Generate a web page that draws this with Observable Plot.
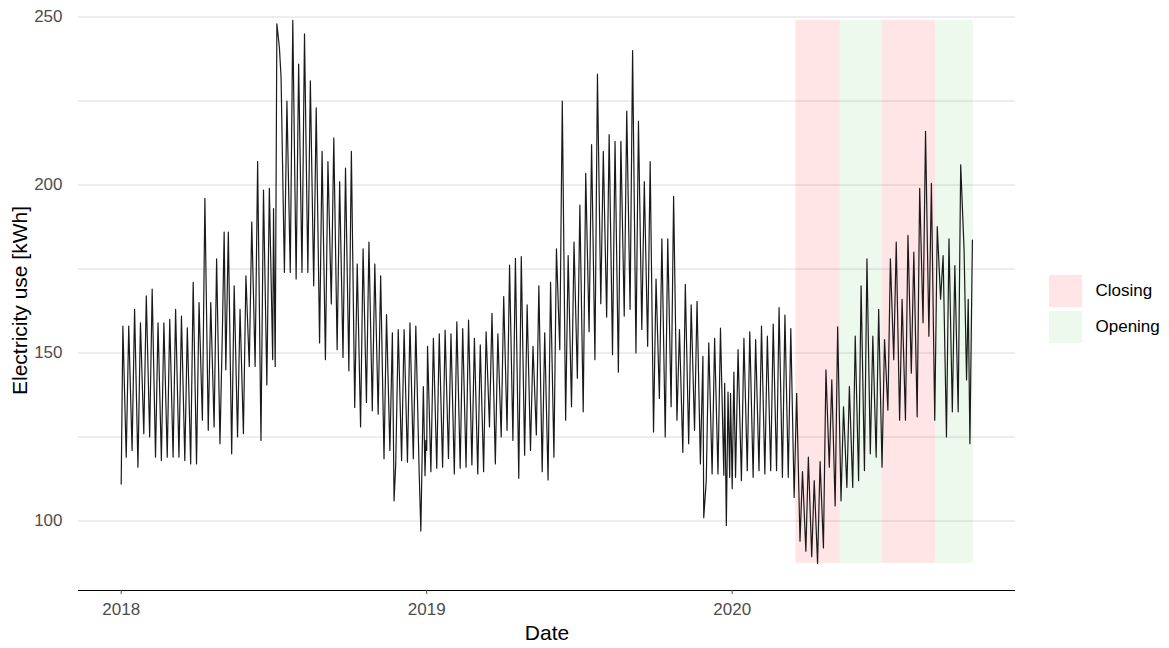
<!DOCTYPE html>
<html>
<head>
<meta charset="utf-8">
<script src="https://cdn.jsdelivr.net/npm/d3@7"></script>
<script src="https://cdn.jsdelivr.net/npm/@observablehq/plot@0.6"></script>
<style>
  body { margin: 0; background: #fff; font-family: "Liberation Sans", Arial, Helvetica, sans-serif; }
  #wrap { position: relative; width: 1169px; height: 648px; }
  #legend { position: absolute; left: 1049px; top: 275px; }
  .row { display: flex; align-items: center; height: 32px; margin-bottom: 3.5px; }
  .sw { width: 33px; height: 32px; }
  .lab { margin-left: 13.5px; font-size: 17px; color: #000; }
</style>
</head>
<body>
<div id="wrap"><div id="chart"></div><div id="legend"></div></div>
<script>
// ---------- data ----------
// weekly weekday peak (placed on Wednesday) and weekend trough (placed on Sunday),
// week 0 = week starting Monday 2018-01-01
const weekdayPeaks = [
  158,158,163,159,167,169,159,159,160,163,
  161,157.5,171,165,196,165,178,158,186,170,
  163,173,189,207,198.5,199,null,232,225,249,
  236,245,231,223,210,207,214,201,205,210,
  176.5,181,183,176.5,173,161.4,156,157,157,159,
  158,null,152,154.4,155.7,156.8,155.7,159.3,157.3,159.8,
  154.4,152.4,156.3,161.8,155.7,166.8,176.2,178.2,178.7,164.3,
  152,170,156,171,181,225,179,183,194,203.5,
  212,233,210,215,213,213,222,240,219,201,
  207,172,184,184,196.6,157,170.4,164.3,165.4,149,
  153,154.4,157.4,98.7,109.6,151,154.4,156.3,154,158,
  155,158.6,163.5,161.3,157.3,138,114.7,119,112,117.7,
  145,142,157.8,134,140,155,170,178,155,163,
  154,178,183,166,185,180,199,216,200.5,187.6,
  179,184,176,206,142,183.6
];
const weekendTroughs = [
  119,121,116,126,125,119,118,119,119,119,
  118,117,117,130,127,128,123,145,120,125,
  126,146,146,124,140.5,148,null,174,174,172,
  174,174,170,153,148,164.6,151,148.7,144.7,133.8,
  128,135.3,132.8,131.8,118.5,121,117,118,117.5,118.5,
  114.5,113.5,114.7,115.7,116,118.6,114,115.7,116,116.7,
  114,114.7,128,117,125,127,124,112.7,119.6,121,
  125.6,114.7,112.2,119,151,130,134,142.5,132.5,156.3,
  148,164.7,160.7,149.5,144.3,161,163,150,157,152,
  126.5,136.5,125,134,130,120.4,123,127,117,112,
  114,114,113.6,113,113,112,115,113,115,114,
  115,115,113,113,107,94,91,89.4,87.4,92,
  116,104.5,106,110,110,112,115,120,119,116,
  133,148,130,130,144,131,159,155,130,166,
  125,132.5,132.5,181,123,null
];
// holidays and irregular days (days since 2018-01-01)
const specialDays   = [0, 123, 182, 184, 186, 189, 326, 358, 361, 364, 365, 696, 721, 725, 728, 732, 1012];
const specialValues = [111, 186, 193, 146, 248, 241, 106, 97, 140, 124, 121, 101, 141, 138.4, 138, 144.3, 166];

// school closing / opening periods
const periodLabels = ["Closing", "Opening", "Closing", "Opening"];
const periodStarts = ["2020-03-17", "2020-05-09", "2020-06-28", "2020-08-31"];
const periodEnds   = ["2020-05-09", "2020-06-28", "2020-08-31", "2020-10-15"];

const yTicks = [100, 150, 200, 250];
const yGrid = [100, 125, 150, 175, 200, 225, 250];
const xTickYears = ["2018-01-01", "2019-01-01", "2020-01-01"];

const legendColors = ["rgba(255,0,0,0.1)", "rgba(40,180,40,0.08)"];

// ---------- build table ----------
const day0 = Date.UTC(2018, 0, 1);
const toDate = d => new Date(day0 + d * 864e5);
const byDay = new Map();
weekdayPeaks.forEach((v, w) => { if (v != null) byDay.set(7 * w + 2, v); });
weekendTroughs.forEach((v, w) => { if (v != null) byDay.set(7 * w + 6, v); });
specialDays.forEach((d, i) => byDay.set(d, specialValues[i]));
const series = Array.from(byDay, ([d, v]) => ({day: d, date: toDate(d), value: v}))
  .sort((a, b) => a.day - b.day);

const periods = periodLabels.map((l, i) => ({label: l, start: new Date(periodStarts[i]), end: new Date(periodEnds[i])}));

const vMin = d3.min(series, d => d.value), vMax = d3.max(series, d => d.value);
const ySpan = vMax - vMin;
const yDomain = [vMin - 0.05 * ySpan, vMax + 0.05 * ySpan];
const pxPerUnit = 168 / 50;
const yBottom = 590;
const yTop = yBottom - (yDomain[1] - yDomain[0]) * pxPerUnit;

const lastDay = Math.max(d3.max(series, d => d.day), (periods[3].end - day0) / 864e5);
const xSpan = lastDay;
const xDomainDays = [-0.05 * xSpan, lastDay + 0.05 * xSpan];
const pxPerDay = 611 / 730;
const xOrigin = 120.7;
const xRange = xDomainDays.map(d => xOrigin + d * pxPerDay);

const font = '"Liberation Sans", Arial, Helvetica, sans-serif';

const chart = Plot.plot({
  width: 1169,
  height: 648,
  marginLeft: 78,
  marginRight: 154,
  marginTop: 0,
  marginBottom: 58,
  style: {fontFamily: font, background: "white", overflow: "visible"},
  x: {type: "utc", domain: xDomainDays.map(toDate), range: xRange},
  y: {domain: yDomain, range: [yBottom, yTop]},
  color: {domain: ["Closing", "Opening"], range: ["#ff0000", "#28b428"]},
  marks: [
    Plot.gridY(yGrid, {stroke: "#dcdcdc", strokeOpacity: 1, strokeWidth: 1}),
    Plot.rect(periods, {x1: "start", x2: "end", y1: vMin, y2: vMax, fill: "label", fillOpacity: d => d.label === "Closing" ? 0.1 : 0.08}),
    Plot.line(series, {x: "date", y: "value", stroke: "#1a1a1a", strokeWidth: 1.2, strokeLinejoin: "round"}),
    Plot.ruleY([yDomain[0]], {stroke: "#000", strokeWidth: 1.2}),
    Plot.axisX(xTickYears.map(s => new Date(s)), {tickFormat: d3.utcFormat("%Y"), tickSize: 4, tickPadding: 8, fontSize: 17, color: "#4d4d4d", label: null}),
    Plot.axisY(yTicks, {tickSize: 0, tickPadding: 16, fontSize: 17, color: "#4d4d4d", label: null}),
    Plot.text(["Date"], {frameAnchor: "bottom", dy: 43, fontSize: 21, fill: "#000", lineAnchor: "middle", textAnchor: "middle"}),
    Plot.text(["Electricity use [kWh]"], {frameAnchor: "left", dx: -58, dy: 5, rotate: -90, fontSize: 21, fill: "#000", lineAnchor: "middle", textAnchor: "middle"})
  ]
});
document.getElementById("chart").appendChild(chart);

const legend = document.getElementById("legend");
periodLabels.slice(0, 2).forEach((l, i) => {
  const row = document.createElement("div");
  row.className = "row";
  row.innerHTML = `<div class="sw" style="background:${legendColors[i]}"></div><div class="lab">${l}</div>`;
  legend.appendChild(row);
});
</script>
</body>
</html>
